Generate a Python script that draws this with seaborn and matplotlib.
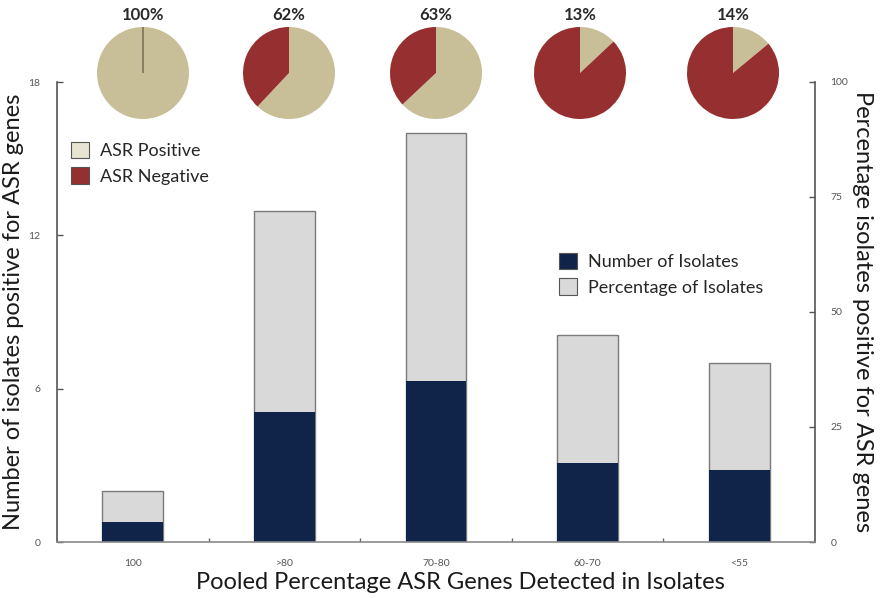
import matplotlib
matplotlib.use("Agg")
import matplotlib.pyplot as plt
from matplotlib.patches import Patch
import pandas as pd
import seaborn as sns

# values
categories = ["100", ">80", "70-80", "60-70", "<55"]
n_isolates = [0.8, 5.1, 6.3, 3.1, 2.8]
pct_isolates = [11, 72, 89, 45, 39]
asr_positive = [100, 62, 63, 13, 14]
pie_labels = ["100%", "62%", "63%", "13%", "14%"]

NAVY = "#10244a"
LIGHT = "#d9d9d9"
BEIGE = "#c8bf98"
RED = "#962f2f"
TXT = "#1a1a1a"

sns.set_theme(style="white")
plt.rcParams["font.family"] = ["Lato", "DejaVu Sans"]

df = pd.DataFrame({"cat": categories, "n": n_isolates, "pct": pct_isolates})

W, H = 880, 598
fig = plt.figure(figsize=(W / 100, H / 100), dpi=100)

# main axes (pixel box: x 57..815, y 82..542)
ax = fig.add_axes([57 / W, 1 - 542 / H, (815 - 57) / W, (542 - 82) / H])
ax2 = ax.twinx()

sns.barplot(data=df, x="cat", y="pct", color=LIGHT, width=0.4, saturation=1,
            edgecolor="#7a7a7a", linewidth=1.0, ax=ax2)
sns.barplot(data=df, x="cat", y="n", color=NAVY, width=0.4, saturation=1,
            linewidth=0, ax=ax)

ax.set_zorder(ax2.get_zorder() + 1)
ax.patch.set_visible(False)

ax.set_ylim(0, 18)
ax2.set_ylim(0, 100)
ax.set_xlim(-0.5, 4.5)
ax.set_yticks([0, 6, 12, 18])
ax2.set_yticks([0, 25, 50, 75, 100])

for a in (ax, ax2):
    a.spines["top"].set_visible(False)
    a.grid(False)
ax.spines["right"].set_visible(False)
ax2.spines["left"].set_visible(False)
ax2.spines["bottom"].set_visible(False)
ax.spines["left"].set_color("#555555")
ax2.spines["right"].set_color("#555555")
ax.spines["bottom"].set_color("#8a8a8a")
for s in ("left", "bottom"):
    ax.spines[s].set_linewidth(1.2)
ax2.spines["right"].set_linewidth(1.2)

ax.tick_params(axis="y", direction="in", length=4, width=1, color="#555555",
               labelsize=7.5, labelcolor="#555555", pad=12, left=True)
ax2.tick_params(axis="y", direction="in", length=4, width=1, color="#555555",
                labelsize=7.5, labelcolor="#555555", pad=11, right=True)
ax.set_xticks(range(len(categories)))
ax.set_xticklabels(categories)
ax.set_xticks([i + 0.5 for i in range(len(categories) - 1)], minor=True)
ax.tick_params(axis="x", which="major", length=0, labelsize=7.5,
               labelcolor="#555555", pad=12)
ax.tick_params(axis="x", which="minor", direction="in", length=3, width=1,
               color="#666666", bottom=True)

ax.set_xlabel("Pooled Percentage ASR Genes Detected in Isolates",
              fontsize=17, color=TXT)
ax.xaxis.set_label_coords(0.532, -0.065)
ax.set_ylabel("Number of isolates positive for ASR genes",
              fontsize=17, color=TXT)
ax.yaxis.set_label_coords(-0.043, 0.5)
ax2.set_ylabel("Percentage isolates positive for ASR genes",
               fontsize=17, color=TXT, rotation=270, labelpad=18)
ax2.set_xlabel("")

# legends
bar_handles = [Patch(facecolor=NAVY, edgecolor="#555555", linewidth=0.8),
               Patch(facecolor=LIGHT, edgecolor="#555555", linewidth=0.8)]
fig.legend(bar_handles, ["Number of Isolates", "Percentage of Isolates"],
           loc="upper left", bbox_to_anchor=(559 / W, 1 - 253 / H),
           frameon=False, fontsize=13, handlelength=1.0, handleheight=1.0,
           handletextpad=0.6, labelspacing=0.45, borderpad=0, borderaxespad=0)

pie_handles = [Patch(facecolor="#e8e4d2", edgecolor="#555555", linewidth=0.8),
               Patch(facecolor=RED, edgecolor="#555555", linewidth=0.8)]
fig.legend(pie_handles, ["ASR Positive", "ASR Negative"],
           loc="upper left", bbox_to_anchor=(71 / W, 1 - 142 / H),
           frameon=False, fontsize=13, handlelength=1.0, handleheight=1.0,
           handletextpad=0.6, labelspacing=0.45, borderpad=0, borderaxespad=0)

# pies above the bars
pie_cx = [143, 289, 436, 580, 733]
pie_cy = 73
r = 46
for cx, pos, lab in zip(pie_cx, asr_positive, pie_labels):
    pax = fig.add_axes([(cx - r) / W, 1 - (pie_cy + r) / H, 2 * r / W, 2 * r / H])
    vals = [pos, 100 - pos]
    wedges, _ = pax.pie(vals, colors=[BEIGE, RED], startangle=90,
                        counterclock=False,
                        wedgeprops=dict(linewidth=0, edgecolor="none"))
    for w, v in zip(wedges, vals):
        if v == 0:
            w.set_edgecolor("#6b6448")
            w.set_linewidth(1.0)
    pax.set_xlim(-1, 1)
    pax.set_ylim(-1, 1)
    pax.set_aspect("equal")
    fig.text(cx / W, 1 - 15 / H, lab, ha="center", va="center",
             fontsize=12, fontweight="bold", color="#2a2a2a")

fig.savefig("out.png", dpi=100)
